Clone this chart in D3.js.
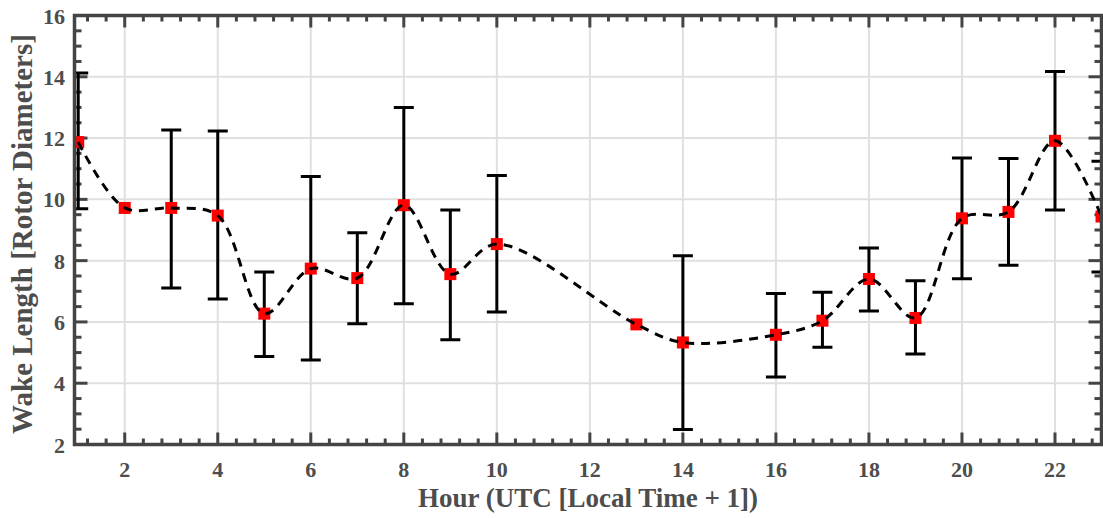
<!DOCTYPE html>
<html lang="en">
<head>
<meta charset="utf-8">
<title>Wake Length</title>
<script src="https://cdn.jsdelivr.net/npm/d3@7"></script>
<style>
  html, body { margin: 0; padding: 0; background: #fff; }
  svg text { font-family: "Liberation Serif", "Times New Roman", serif; font-weight: bold; fill: #4d4d4d; }
</style>
</head>
<body>
<script>
// hourly wake length (rotor diameters) with error bar ends
var hours = [1, 2, 3, 4, 5, 6, 7, 8, 9, 10, 13, 14, 16, 17, 18, 19, 20, 21, 22, 23];
var wake  = [11.87, 9.72, 9.72, 9.47, 6.27, 7.74, 7.43, 9.81, 7.56, 8.54, 5.92, 5.33, 5.58, 6.04, 7.40, 6.13, 9.38, 9.59, 11.91, 9.44];
var upper = [14.12, 9.72, 12.26, 12.23, 7.63, 10.75, 8.91, 13.00, 9.65, 10.78, 5.92, 8.16, 6.93, 6.97, 8.41, 7.34, 11.35, 11.33, 14.17, 11.24];
var lower = [9.69, 9.72, 7.11, 6.75, 4.87, 4.76, 5.94, 6.59, 5.42, 6.32, 5.92, 2.49, 4.20, 5.17, 6.36, 4.95, 7.41, 7.85, 9.65, 7.63];
var xTicks = [2, 4, 6, 8, 10, 12, 14, 16, 18, 20, 22];
var yTicks = [2, 4, 6, 8, 10, 12, 14, 16];

var W = 1103, H = 518;
var pL = 74.5, pR = 1101.5, pT = 15.5, pB = 444.5;

var svg = d3.select("body").append("svg").attr("width", W).attr("height", H);

var x = d3.scaleLinear().domain([0.92, 23]).range([pL, pR]);
var y = d3.scaleLinear().domain([2, 16]).range([pB, pT]);

svg.append("defs").append("clipPath").attr("id", "clip")
  .append("rect").attr("x", pL).attr("y", pT).attr("width", pR - pL).attr("height", pB - pT);

// grid
var grid = svg.append("g").attr("stroke", "#e0e0e0").attr("stroke-width", 2);
grid.selectAll(".gx").data(xTicks).enter().append("line")
  .attr("x1", function(d) { return x(d); }).attr("x2", function(d) { return x(d); })
  .attr("y1", pT).attr("y2", pB);
grid.selectAll(".gy").data(yTicks).enter().append("line")
  .attr("x1", pL).attr("x2", pR)
  .attr("y1", function(d) { return y(d); }).attr("y2", function(d) { return y(d); });

// minor ticks
var xMinor = d3.range(1.2, 23.01, 0.4).filter(function(v) { return Math.abs(v / 2 - Math.round(v / 2)) > 0.01; });
var yMinor = d3.range(2.5, 16, 0.5).filter(function(v) { return Math.abs(v / 2 - Math.round(v / 2)) > 0.01; });

var axisCol = "#444";
var ticks = svg.append("g").attr("stroke", axisCol).attr("stroke-width", 3);
function tickX(vals, len) {
  vals.forEach(function(v) {
    ticks.append("line").attr("x1", x(v)).attr("x2", x(v)).attr("y1", pB).attr("y2", pB - len);
    ticks.append("line").attr("x1", x(v)).attr("x2", x(v)).attr("y1", pT).attr("y2", pT + len);
  });
}
function tickY(vals, len) {
  vals.forEach(function(v) {
    ticks.append("line").attr("y1", y(v)).attr("y2", y(v)).attr("x1", pL).attr("x2", pL + len);
    ticks.append("line").attr("y1", y(v)).attr("y2", y(v)).attr("x1", pR).attr("x2", pR - len);
  });
}
tickX(xTicks, 12);
tickX(xMinor, 6);
tickY(yTicks, 13);
tickY(yMinor, 7);

var plot = svg.append("g").attr("clip-path", "url(#clip)");
var data = hours.map(function(h, i) { return { h: h, v: wake[i], hi: upper[i], lo: lower[i] }; });

// error bars
var eb = plot.append("g").attr("stroke", "#000").attr("stroke-width", 3);
data.filter(function(d) { return d.hi - d.lo > 0.05; }).forEach(function(d) {
  eb.append("line").attr("x1", x(d.h)).attr("x2", x(d.h)).attr("y1", y(d.hi)).attr("y2", y(d.lo));
  eb.append("line").attr("x1", x(d.h) - 10).attr("x2", x(d.h) + 10).attr("y1", y(d.hi)).attr("y2", y(d.hi));
  eb.append("line").attr("x1", x(d.h) - 10).attr("x2", x(d.h) + 10).attr("y1", y(d.lo)).attr("y2", y(d.lo));
});

// markers
plot.selectAll(".mk").data(data).enter().append("rect")
  .attr("x", function(d) { return x(d.h) - 6; })
  .attr("y", function(d) { return y(d.v) - 6; })
  .attr("width", 12).attr("height", 12)
  .attr("fill", "#ff0000");

// smoothed dashed line
var line = d3.line()
  .x(function(d) { return x(d.h); })
  .y(function(d) { return y(d.v); })
  .curve(d3.curveCatmullRom.alpha(0.5));
plot.append("path").datum(data)
  .attr("d", line)
  .attr("fill", "none").attr("stroke", "#000")
  .attr("stroke-width", 3).attr("stroke-dasharray", "9,7");

// box
svg.append("rect").attr("x", pL).attr("y", pT).attr("width", pR - pL).attr("height", pB - pT)
  .attr("fill", "none").attr("stroke", axisCol).attr("stroke-width", 3.5);

// tick labels
svg.selectAll(".xl").data(xTicks).enter().append("text")
  .attr("x", function(d) { return x(d); }).attr("y", 477)
  .attr("text-anchor", "middle").attr("font-size", 22)
  .text(function(d) { return d; });
svg.selectAll(".yl").data(yTicks).enter().append("text")
  .attr("x", 65).attr("y", function(d) { return y(d) + 8; })
  .attr("text-anchor", "end").attr("font-size", 22)
  .text(function(d) { return d; });

// axis titles
svg.append("text").attr("x", (pL + pR) / 2).attr("y", 507)
  .attr("text-anchor", "middle").attr("font-size", 27)
  .text("Hour (UTC [Local Time + 1])");
svg.append("text")
  .attr("transform", "translate(32," + 234 + ") rotate(-90)")
  .attr("text-anchor", "middle").attr("font-size", 29)
  .text("Wake Length [Rotor Diameters]");
</script>
</body>
</html>
